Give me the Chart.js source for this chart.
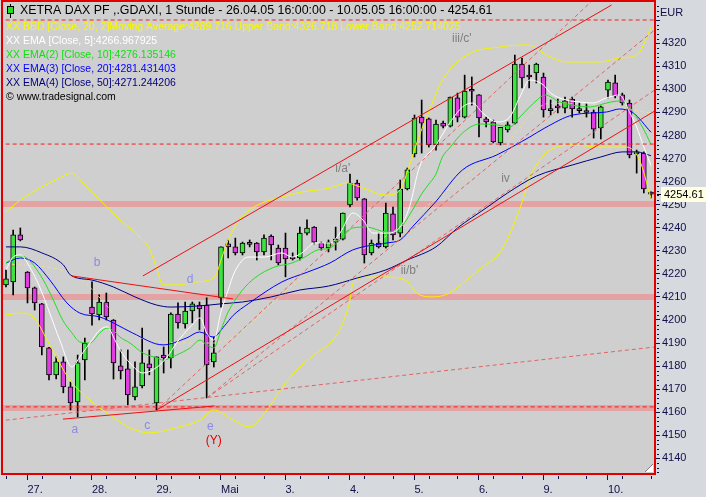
<!DOCTYPE html>
<html>
<head>
<meta charset="utf-8">
<script src="https://cdn.jsdelivr.net/npm/chart.js@4.4.1/dist/chart.umd.min.js"></script>
<style>
  html, body { margin: 0; padding: 0; background: #d6d9dd; }
  canvas { display: block; }
</style>
</head>
<body>
<canvas id="c" width="706" height="497"></canvas>
<script>
// hourly bars, 26.04.05 16:00 .. 10.05.05 16:00 (91 bars)
const opens = [4215.2,4216.5,4236.9,4220.8,4213.9,4207.0,4187.9,4176.2,4181.8,4171.0,
  4164.5,4182.7,4205.6,4202.2,4207.8,4200.0,4180.1,4178.8,4166.6,4171.4,
  4181.0,4164.0,4184.8,4183.5,4202.6,4198.3,4203.9,4206.5,4206.5,4181.8,
  4209.6,4233.0,4231.7,4229.1,4233.4,4233.4,4229.5,4236.4,4231.2,4231.2,
  4227.3,4226.9,4237.7,4240.3,4233.4,4231.2,4233.8,4235.1,4249.9,4259.4,
  4252.5,4229.1,4233.4,4231.7,4246.0,4237.7,4256.8,4272.0,4288.0,4287.2,
  4275.9,4285.4,4284.1,4296.3,4288.0,4299.7,4297.6,4287.2,4285.9,4276.8,
  4282.4,4285.4,4311.0,4306.2,4307.1,4305.4,4291.1,4292.4,4291.9,4295.8,
  4291.1,4290.2,4290.2,4283.3,4299.7,4302.8,4297.6,4294.1,4272.0,4272.4,
  4255.5];
const highs = [4221.7,4239.0,4239.9,4221.0,4214.3,4207.2,4188.1,4184.0,4184.0,4173.1,
  4184.8,4192.2,4216.5,4210.9,4211.7,4200.2,4187.0,4187.0,4181.8,4196.5,
  4187.0,4184.0,4188.3,4203.1,4207.4,4207.8,4207.8,4207.8,4209.6,4192.6,
  4231.7,4234.7,4235.5,4233.8,4234.7,4233.6,4236.9,4236.9,4232.5,4237.7,
  4229.1,4240.3,4243.4,4240.5,4233.8,4234.7,4240.3,4246.4,4263.3,4260.7,
  4252.7,4234.7,4237.7,4250.7,4249.0,4260.7,4265.9,4288.9,4295.4,4287.6,
  4286.7,4286.3,4296.7,4298.4,4306.2,4305.4,4297.8,4288.0,4286.7,4283.3,
  4285.9,4314.9,4313.6,4310.6,4311.4,4307.1,4295.4,4295.8,4296.7,4296.7,
  4294.1,4293.7,4291.1,4292.8,4304.1,4306.2,4298.4,4295.4,4273.7,4272.9,
  4255.6];
const lows = [4214.3,4210.9,4234.3,4207.4,4204.3,4184.8,4174.0,4174.4,4168.4,4161.0,
  4158.0,4174.0,4197.8,4200.0,4200.0,4174.4,4174.4,4163.2,4165.3,4170.5,
  4176.2,4161.0,4177.0,4179.2,4196.5,4196.5,4198.7,4195.7,4166.2,4179.6,
  4205.6,4226.9,4228.2,4228.2,4231.7,4226.0,4228.2,4226.0,4223.9,4218.7,
  4226.0,4226.0,4236.9,4233.0,4230.3,4229.5,4230.3,4234.7,4249.0,4252.0,
  4224.7,4228.2,4231.2,4231.2,4234.7,4236.0,4256.4,4270.7,4272.4,4275.0,
  4273.7,4283.3,4283.7,4285.9,4287.6,4293.2,4279.4,4283.7,4276.8,4275.9,
  4281.5,4285.0,4300.6,4300.6,4302.8,4288.0,4288.9,4289.8,4289.8,4288.0,
  4289.8,4288.0,4278.9,4278.5,4296.3,4296.3,4293.2,4270.3,4263.7,4255.1,
  4252.9];
const closes = [4217.8,4236.9,4234.7,4213.9,4207.4,4188.3,4176.2,4181.8,4171.0,4164.0,
  4181.4,4190.0,4202.6,4207.8,4201.3,4181.4,4177.9,4167.5,4171.0,4181.4,
  4179.2,4184.0,4183.5,4202.6,4198.7,4203.9,4207.0,4204.8,4180.5,4185.7,
  4231.7,4231.7,4229.1,4233.4,4232.8,4229.5,4235.5,4232.5,4224.7,4226.5,
  4226.5,4237.7,4239.9,4233.8,4231.2,4233.8,4235.1,4246.4,4259.4,4252.9,
  4228.2,4233.4,4231.7,4246.4,4236.9,4256.8,4265.1,4287.6,4285.4,4275.9,
  4285.0,4284.1,4296.7,4288.0,4299.3,4299.2,4287.6,4285.9,4277.2,4283.5,
  4284.6,4311.0,4305.0,4305.4,4311.0,4291.1,4290.8,4292.0,4295.0,4291.5,
  4290.8,4290.0,4282.8,4292.4,4303.2,4297.2,4294.1,4271.6,4272.9,4256.8,
  4254.61];

// x axis: first bar of each day
const dayStarts = [3, 12, 21, 30, 39, 48, 57, 66, 75, 84];
const dayLabels = ['27.', '28.', '29.', 'Mai', '3.', '4.', '5.', '6.', '9.', '10.'];

// indicators: [bar, price]
const ema5 = [[0,4221.7],[1,4227.3],[2,4228.2],[3.3,4223.0],[4.7,4214.3],[6.1,4203.0],[7.5,4191.3],
  [9.2,4179.6],[10.3,4184.0],[11.7,4190.0],[13.1,4195.7],[14.1,4197.0],[15.2,4191.3],[15.9,4187.0],
  [17.3,4181.3],[19.1,4177.0],[21.1,4179.6],[22.5,4184.0],[23.8,4190.0],[25.7,4197.0],[27.1,4200.9],
  [28,4194.4],[29,4191.3],[30,4203.5],[31,4213.0],[31.9,4220.8],[33.8,4227.3],[36.1,4227.3],
  [38.5,4229.1],[39.9,4227.3],[41.3,4229.1],[43.1,4233.4],[45.2,4233.4],[46.6,4237.7],[48.4,4246.4],
  [49.8,4243.4],[51.2,4237.7],[53.1,4237.7],[55,4240.3],[56.3,4249.0],[57.7,4266.4],[59.8,4275.0],
  [61.9,4285.4],[63.7,4292.4],[65.1,4294.1],[66.5,4289.8],[68.5,4285.9],[70.3,4288.0],[71.7,4296.7],
  [73.1,4304.1],[75,4301.9],[76,4298.4],[78.2,4295.4],[80.1,4294.5],[81.9,4294.1],[83.8,4296.3],
  [85.6,4297.6],[87,4290.2],[88,4283.7],[89,4275.0],[90,4266.97]];
const ema10 = [[0,4224.7],[1,4226.9],[2,4227.7],[2.9,4226.9],[3.8,4223.9],[5.2,4217.4],[6.6,4208.7],
  [7.9,4200.0],[9.2,4194.4],[10.3,4190.5],[11.7,4190.0],[13.1,4194.4],[14.1,4196.5],[15.2,4194.8],
  [15.9,4192.6],[17.3,4190.0],[19.1,4185.7],[21.1,4183.5],[21.9,4182.6],[23.8,4184.8],[25.7,4187.9],
  [27.1,4191.3],[28,4189.2],[29,4187.9],[30,4195.7],[31,4203.5],[32.9,4212.6],[34.7,4218.2],
  [37.5,4223.0],[39.9,4224.7],[41.7,4227.3],[43.5,4230.4],[45.2,4231.2],[46.6,4234.7],[48.4,4239.9],
  [50.3,4240.3],[53.1,4238.2],[55,4239.9],[56.9,4248.6],[57.9,4254.2],[58.9,4258.5],[60,4263.3],
  [60.9,4270.7],[61.9,4274.6],[63.7,4281.1],[66.1,4285.0],[68.5,4284.6],[70.3,4283.7],[71.7,4288.0],
  [74.1,4295.4],[75.2,4297.6],[77.3,4294.5],[81.5,4292.4],[83.8,4294.1],[85.6,4295.0],[87,4292.0],
  [88.8,4283.7],[90,4276.14]];
const ema20 = [[0,4224.7],[2,4226.9],[4,4224.7],[6.1,4217.4],[8.5,4207.4],[10.3,4203.0],[13.1,4201.3],
  [15,4198.7],[17.7,4194.3],[21.9,4189.2],[25.2,4192.2],[27,4194.8],[28.9,4192.6],[30.5,4197.5],
  [31.7,4202.0],[33.8,4207.0],[38.5,4216.5],[42.1,4220.8],[45.2,4224.7],[48.4,4230.4],[53.1,4233.4],
  [55,4234.7],[56.8,4240.7],[59.8,4250.7],[63.7,4265.1],[68.5,4271.6],[73.1,4279.4],[75.2,4283.3],
  [79.1,4288.9],[83.8,4290.2],[85.6,4291.5],[87.5,4289.8],[90,4281.43]];
const ema50 = [[0,4231.7],[2,4231.7],[5,4229.1],[8,4223.9],[9,4219.5],[12,4217.3],[15,4214.3],
  [18,4210.0],[21,4206.5],[23,4205.6],[27,4206.1],[30,4207.0],[33,4207.8],[37,4210.0],[41,4213.0],
  [45,4214.7],[49,4218.2],[53,4221.7],[56,4226.0],[60,4231.7],[63,4239.9],[67,4248.6],[70,4255.1],
  [74,4262.4],[79,4267.2],[83,4270.7],[86,4272.9],[88,4272.9],[90,4271.24]];
const bbUpper = [[0,4246.8],[2,4252.0],[4.7,4257.2],[7.5,4261.6],[9.2,4263.7],[11,4258.5],[13.1,4252.0],
  [15.9,4243.4],[18.7,4236.0],[20.1,4230.3],[21.1,4221.7],[21.9,4215.2],[23.8,4215.2],[26.6,4216.5],
  [29.1,4218.6],[30.1,4226.9],[31,4234.7],[32.9,4244.7],[35.7,4250.7],[38.5,4253.3],[41.3,4255.5],
  [45.2,4257.2],[47.6,4259.4],[49.4,4257.7],[53.1,4254.2],[55,4256.4],[56.3,4267.2],[57.7,4280.2],
  [59.1,4291.1],[60.9,4304.1],[64.3,4314.9],[68.9,4318.4],[72.7,4319.3],[75.9,4314.1],[78.2,4311.9],
  [82.8,4311.9],[85.6,4313.6],[88,4314.9],[90,4326.7]];
const bbLower = [[0,4202.2],[2,4203.0],[3.8,4201.3],[6.1,4189.2],[8.9,4174.0],[11.7,4165.3],[14.5,4158.8],
  [17.3,4153.2],[20.1,4151.0],[23.6,4153.2],[27.1,4156.6],[28.9,4161.0],[31.7,4156.6],[34,4153.6],
  [36.4,4161.0],[38.6,4171.0],[41,4179.6],[43.4,4185.7],[45.6,4191.3],[47,4198.7],[48,4208.7],
  [48.4,4216.0],[50.3,4218.6],[53.1,4218.6],[55.9,4216.9],[57.3,4211.7],[59.6,4210.0],[61.9,4211.7],
  [64.3,4217.4],[66.5,4223.0],[68.9,4229.1],[70.7,4240.3],[72.1,4252.0],[73.1,4262.0],[74.5,4269.4],
  [75.9,4273.7],[79.1,4275.9],[82.8,4275.0],[86.6,4275.0],[88.4,4269.4],[90,4252.71]];
const bbMiddle = [[0,4224.5],[9.2,4220.0],[20.1,4191.0],[28.9,4190.0],[41,4217.0],[53.1,4236.5],
  [59.6,4251.5],[68.9,4273.7],[75.9,4294.0],[82.8,4293.5],[90,4289.7]];

// drawn tools: [bar, price]
const channelUpper = [[19.1,4219.1],[84.5,4336.6]];
const channelLower = [[21.06,4161.0],[92,4293.4]];
const lineB = [[9.2,4219.1],[31.7,4209.1]];
const lineBase = [[7.95,4157.0],[29.1,4162.7]];
const dashLong = [[-1,4156.2],[92,4188.8]];
const dashFan1 = [[21.06,4161.0],[84,4344.9]];
const dashFan2 = [[28.03,4166.2],[92,4329.6]];
const dashFan3 = [[28.03,4166.2],[92,4302.9]];
const levelsDashed = [4330.1, 4276.3, 4162.3];
const levelsBand = [4250.3, 4210.0, 4161.8];

const FONT = '"Liberation Sans", Arial, sans-serif';
const AXIS = '#101048';
const UP = '#3ee43e', DOWN = '#e03ce0';

const pts = arr => arr.map(([x, y]) => ({x, y}));
const hline = v => [{x: -2, y: v}, {x: 93, y: v}];

function lineSet(data, color, order, extra) {
  return Object.assign({
    type: 'line', data, borderColor: color, borderWidth: 1, pointRadius: 0,
    fill: false, order, cubicInterpolationMode: 'monotone'
  }, extra || {});
}

const datasets = [];
levelsBand.forEach(v => datasets.push(lineSet(hline(v), 'rgba(232,150,150,0.8)', 20, {borderWidth: 6})));
datasets.push({
  type: 'bar', data: lows.map((l, i) => ({x: i, y: [l, highs[i]]})),
  backgroundColor: '#000', borderWidth: 0, barThickness: 1, grouped: false, order: 18
});
datasets.push({
  type: 'bar', data: opens.map((o, i) => ({x: i, y: [o, closes[i]]})),
  backgroundColor: opens.map((o, i) => closes[i] >= o ? UP : DOWN),
  borderColor: '#000', borderWidth: 1, borderSkipped: false, minBarLength: 2,
  barThickness: 5, grouped: false, order: 17
});
datasets.push(lineSet(pts(bbMiddle), 'rgba(235,225,140,0.9)', 16, {borderDash: [3, 3]}));
datasets.push(lineSet(pts(bbUpper), '#f4f400', 15));
datasets.push(lineSet(pts(bbLower), '#f4f400', 15));
datasets.push(lineSet(pts(ema50), '#000080', 14));
datasets.push(lineSet(pts(ema20), '#0000ff', 13));
datasets.push(lineSet(pts(ema10), '#20e020', 12));
datasets.push(lineSet(pts(ema5), '#ffffff', 11));
levelsDashed.forEach(v => datasets.push(lineSet(hline(v), '#ee2020', 5, {borderDash: [4, 3]})));
[dashLong, dashFan1, dashFan2, dashFan3].forEach(l =>
  datasets.push(lineSet(pts(l), '#e06464', 4, {borderDash: [4, 3], cubicInterpolationMode: 'default', tension: 0})));
[channelUpper, channelLower, lineB, lineBase].forEach(l =>
  datasets.push(lineSet(pts(l), '#ee1010', 3, {cubicInterpolationMode: 'default', tension: 0})));

const waveLabels = [
  {t: 'a', x: 9.6, y: 4152.3, c: '#8a8ae6'},
  {t: 'b', x: 12.7, y: 4224.7, c: '#8a8ae6'},
  {t: 'c', x: 19.7, y: 4154.0, c: '#8a8ae6'},
  {t: 'd', x: 25.7, y: 4217.4, c: '#8a8ae6'},
  {t: 'e', x: 28.5, y: 4153.6, c: '#8a8ae6'},
  {t: '(Y)', x: 29.0, y: 4147.5, c: '#e00000'},
  {t: "i/a'", x: 47.0, y: 4265.5, c: '#808080'},
  {t: "ii/b'", x: 56.3, y: 4221.2, c: '#808080'},
  {t: "iii/c'", x: 63.6, y: 4321.9, c: '#808080'},
  {t: 'iv', x: 69.7, y: 4261.1, c: '#808080'}
];

const legendRows = [
  {t: 'XX BBD [Close, 20, 2]Moving Average:4289.716 Upper Band:4326.718 Lower Band:4252.714025', c: '#f8f800'},
  {t: 'XX EMA [Close, 5]:4266.967925', c: '#ffffff'},
  {t: 'XX EMA(2) [Close, 10]:4276.135146', c: '#10e010'},
  {t: 'XX EMA(3) [Close, 20]:4281.431403', c: '#0000ff'},
  {t: 'XX EMA(4) [Close, 50]:4271.244206', c: '#000080'},
  {t: '\u00a9 www.tradesignal.com', c: '#000000'}
];

// keep the plot frame fixed: no label overhang padding
function noOverhang(s) {
  s.paddingTop = 0; s.paddingBottom = 0; s.paddingLeft = 0; s.paddingRight = 0;
}

const decor = {
  id: 'decor',
  beforeDraw(chart) {
    const {ctx, chartArea: a} = chart;
    ctx.save();
    ctx.fillStyle = '#d6d9dd';
    ctx.fillRect(0, 0, chart.width, chart.height);
    ctx.fillStyle = '#cfcfcf';
    ctx.fillRect(a.left, a.top, a.right - a.left, a.bottom - a.top);
    ctx.restore();
  },
  afterDraw(chart) {
    const {ctx, chartArea: a} = chart;
    const xs = chart.scales.x, ys = chart.scales.y;
    ctx.save();
    ctx.textBaseline = 'middle';

    // wave counts
    ctx.font = '12px ' + FONT;
    ctx.textAlign = 'center';
    waveLabels.forEach(l => {
      ctx.fillStyle = l.c;
      ctx.fillText(l.t, xs.getPixelForValue(l.x), ys.getPixelForValue(l.y));
    });

    // header
    ctx.textAlign = 'left';
    ctx.font = '12.4px ' + FONT;
    ctx.fillStyle = '#000';
    ctx.fillText('XETRA DAX PF ,.GDAXI, 1 Stunde - 26.04.05 16:00:00 - 10.05.05 16:00:00 - 4254.61', 20, 11);
    ctx.fillRect(10, 4, 1, 14);
    ctx.fillStyle = '#20e020';
    ctx.fillRect(8, 7, 5, 6);
    ctx.strokeStyle = '#000';
    ctx.lineWidth = 1;
    ctx.strokeRect(7.5, 6.5, 6, 7);

    // indicator legend
    ctx.font = '10.5px ' + FONT;
    legendRows.forEach((r, i) => {
      ctx.fillStyle = r.c;
      ctx.fillText(r.t, 6, 27.5 + i * 13.9);
    });

    // minor ticks
    ctx.fillStyle = AXIS;
    for (let v = 4134; v <= 4336; v += 2) {
      if (v % 10 === 0) continue;
      ctx.fillRect(657, Math.round(ys.getPixelForValue(v)), 2, 1);
    }
    const minor = [0];
    dayStarts.forEach(d => { minor.push(d + 2, d + 6); });
    minor.forEach(b => {
      if (b > 90) return;
      ctx.fillRect(Math.round(xs.getPixelForValue(b)), 476, 1, 3);
    });

    // frame
    ctx.strokeStyle = '#e00000';
    ctx.lineWidth = 2;
    ctx.strokeRect(a.left, a.top - 1, a.right - a.left, a.bottom - a.top + 1);

    // size grip
    ctx.fillStyle = '#ffffff';
    ctx.beginPath();
    ctx.moveTo(653, 464); ctx.lineTo(653, 472); ctx.lineTo(645, 472); ctx.closePath();
    ctx.fill();
    ctx.strokeStyle = '#808080';
    ctx.lineWidth = 1;
    ctx.beginPath(); ctx.moveTo(645, 472); ctx.lineTo(653, 464); ctx.stroke();

    // currency and last price
    ctx.font = '11px ' + FONT;
    ctx.fillStyle = AXIS;
    ctx.fillText('EUR', 660, 13);
    const py = Math.round(ys.getPixelForValue(closes[closes.length - 1]));
    ctx.fillStyle = '#ffffe1';
    ctx.fillRect(661, py - 7, 45, 15);
    ctx.fillStyle = '#000';
    ctx.fillRect(657, py, 4, 1);
    ctx.fillText('4254.61', 664, py + 1);
    ctx.restore();
  }
};

new Chart(document.getElementById('c'), {
  type: 'line',
  data: {datasets},
  plugins: [decor],
  options: {
    responsive: false,
    animation: false,
    events: [],
    layout: {autoPadding: false, padding: {left: 2, top: 2, right: 0, bottom: 0}},
    plugins: {legend: {display: false}, tooltip: {enabled: false}},
    scales: {
      x: {
        type: 'linear', min: -0.558, max: 90.56, offset: false,
        afterFit: s => { s.height = 23; noOverhang(s); },
        afterBuildTicks: s => { s.ticks = dayStarts.map(v => ({value: v})); },
        ticks: {
          autoSkip: false, maxRotation: 0, align: 'start', padding: 3,
          color: AXIS, font: {family: FONT, size: 11},
          callback: (v, i) => dayLabels[i]
        },
        grid: {drawOnChartArea: false, offset: false, tickLength: 6, color: AXIS},
        border: {display: false}
      },
      y: {
        position: 'right', min: 4133.2, max: 4337.91,
        afterFit: s => { s.width = 51; noOverhang(s); },
        ticks: {
          stepSize: 10, includeBounds: false, padding: 2,
          color: AXIS, font: {family: FONT, size: 11},
          callback: v => (v <= 4320 ? String(v) : '')
        },
        grid: {drawOnChartArea: false, tickLength: 5, color: AXIS},
        border: {display: false}
      }
    }
  }
});
</script>
</body>
</html>
